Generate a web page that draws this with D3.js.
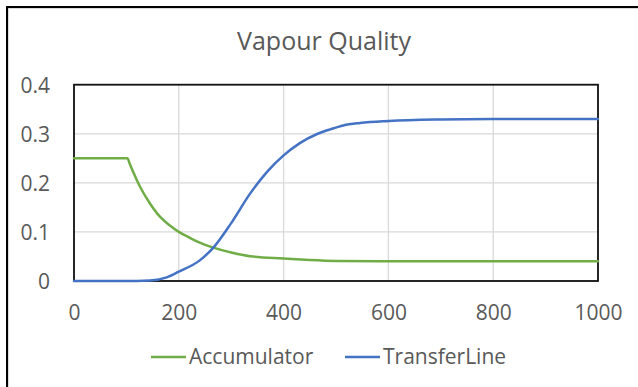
<!DOCTYPE html>
<html>
<head>
<meta charset="utf-8">
<script src="https://cdn.jsdelivr.net/npm/d3@7"></script>
<style>
  body { margin: 0; background: #fff; }
  svg { display: block; }
  text { font-family: "Open Sans", sans-serif; fill: #595959; }
</style>
</head>
<body>
<svg id="chart" width="638" height="387"></svg>
<script>
// Vapour quality over time for the accumulator and the transfer line
const chartTitle = "Vapour Quality";

const accumulatorTime = [0, 50, 102, 106, 113, 126, 145, 164, 183, 200, 221, 240, 266, 300, 336, 400, 450, 500, 600, 800, 1000];
const accumulatorQuality = [0.25, 0.25, 0.25, 0.24, 0.222, 0.192, 0.158, 0.131, 0.113, 0.100, 0.088, 0.078, 0.068, 0.058, 0.0505, 0.046, 0.043, 0.041, 0.040, 0.040, 0.040];

const transferTime = [0, 100, 120, 145, 177, 200, 240, 266, 300, 336, 368, 400, 431, 463, 489, 514, 546, 601, 698, 800, 1000];
const transferQuality = [0, 0, 0, 0.001, 0.0075, 0.019, 0.042, 0.068, 0.118, 0.178, 0.222, 0.256, 0.281, 0.299, 0.309, 0.317, 0.322, 0.326, 0.329, 0.330, 0.330];

const xTicks = [0, 200, 400, 600, 800, 1000];
const yTicks = [0, 0.1, 0.2, 0.3, 0.4];
const seriesNames = ["Accumulator", "TransferLine"];
const seriesColors = ["#70ad47", "#4472c4"];

const svg = d3.select("#chart");

// chart frame
svg.append("rect").attr("x", 7).attr("y", 7).attr("width", 700).attr("height", 500)
  .attr("fill", "none").attr("stroke", "#000").attr("stroke-width", 2);
svg.append("rect").attr("x", 8.5).attr("y", 8.5).attr("width", 700).attr("height", 500)
  .attr("fill", "none").attr("stroke", "#d9d9d9").attr("stroke-width", 1);

const plot = { left: 74, right: 598, top: 84.7, bottom: 281 };

const x = d3.scaleLinear().domain([0, 1000]).range([plot.left, plot.right]);
const y = d3.scaleLinear().domain([0, 0.4]).range([plot.bottom, plot.top]);

// title
svg.append("text").attr("x", 324).attr("y", 50).attr("text-anchor", "middle")
  .style("font-size", "25px").text(chartTitle);

// gridlines
const grid = svg.append("g");
grid.selectAll("line.v").data(xTicks).join("line")
  .attr("x1", d => x(d)).attr("x2", d => x(d))
  .attr("y1", plot.top).attr("y2", plot.bottom)
  .attr("stroke", "#d9d9d9").attr("stroke-width", 1.3);
grid.selectAll("line.h").data(yTicks).join("line")
  .attr("x1", plot.left).attr("x2", plot.right)
  .attr("y1", d => y(d)).attr("y2", d => y(d))
  .attr("stroke", "#d9d9d9").attr("stroke-width", 1.3);

// plot border
svg.append("rect").attr("x", plot.left).attr("y", plot.top)
  .attr("width", plot.right - plot.left).attr("height", plot.bottom - plot.top)
  .attr("fill", "none").attr("stroke", "#111").attr("stroke-width", 1.8);

// axes (labels only)
const xAxis = d3.axisBottom(x).tickValues(xTicks).tickSize(0).tickPadding(0).tickFormat(d3.format("d"));
const gx = svg.append("g").attr("transform", `translate(0,${plot.bottom + 32})`).call(xAxis);
gx.select(".domain").remove();
gx.selectAll("text").attr("dy", "0.35em").style("font-size", "21px").style("font-family", null).attr("fill", "#595959");

const yAxis = d3.axisLeft(y).tickValues(yTicks).tickSize(0).tickPadding(0)
  .tickFormat(d => d === 0 ? "0" : d3.format(".1f")(d));
const gy = svg.append("g").attr("transform", `translate(50,0)`).call(yAxis);
gy.select(".domain").remove();
gy.selectAll("text").attr("dy", "0.35em").style("font-size", "21px").style("font-family", null).attr("fill", "#595959");

// series
const line = d3.line().x(d => x(d[0])).y(d => y(d[1])).curve(d3.curveMonotoneX);
const series = [
  d3.zip(accumulatorTime, accumulatorQuality),
  d3.zip(transferTime, transferQuality)
];
svg.append("g").selectAll("path").data(series).join("path")
  .attr("d", line).attr("fill", "none")
  .attr("stroke", (d, i) => seriesColors[i]).attr("stroke-width", 2.5)
  .attr("stroke-linejoin", "round").attr("stroke-linecap", "round");

// legend
const legendX = [151, 345];
const legend = svg.append("g").attr("transform", "translate(0,357)");
const items = legend.selectAll("g").data(seriesNames).join("g")
  .attr("transform", (d, i) => `translate(${legendX[i]},0)`);
items.append("line").attr("x1", 0).attr("x2", 35).attr("y1", 0).attr("y2", 0)
  .attr("stroke", (d, i) => seriesColors[i]).attr("stroke-width", 2.5);
items.append("text").attr("x", 38).attr("dy", "0.35em").style("font-size", "21px").text(d => d);
</script>
</body>
</html>
